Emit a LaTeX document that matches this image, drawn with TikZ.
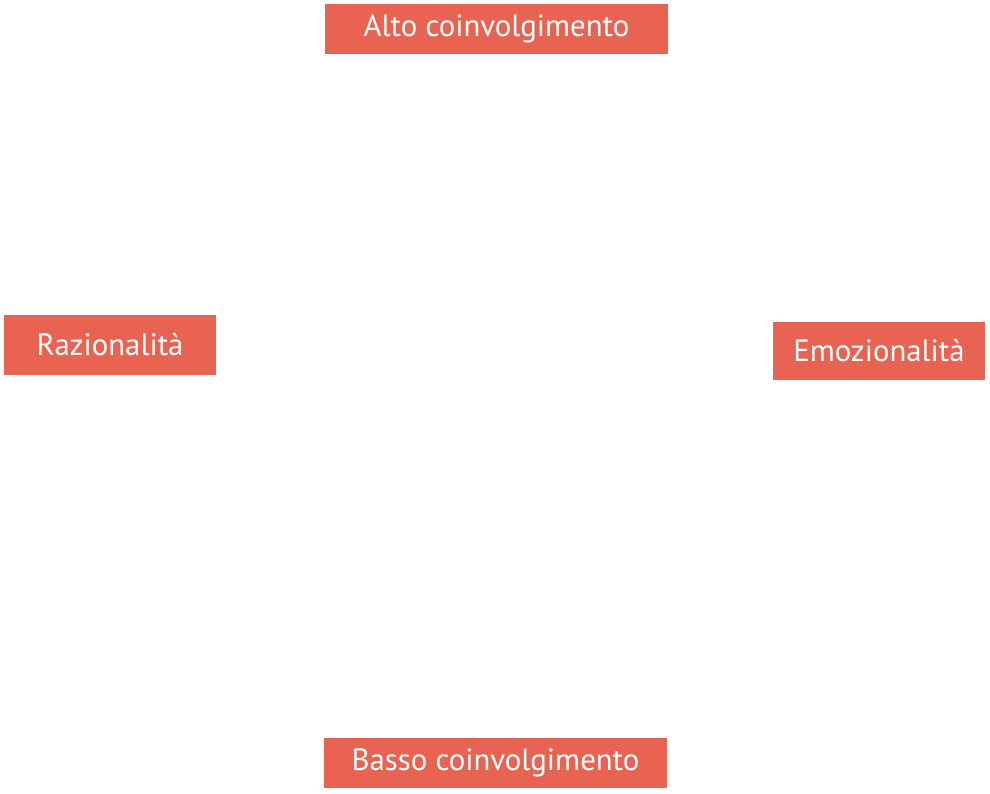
\documentclass[tikz,border=0pt]{standalone}
\usepackage{fontspec}
\setmainfont{PT Sans}
\definecolor{boxred}{HTML}{E96352}
\begin{document}
\begin{tikzpicture}[x=1pt,y=-1pt,
  lbl/.style={fill=boxred,text=white,inner sep=0pt,font=\fontsize{30.8}{33}\selectfont}]
\useasboundingbox (0,0) rectangle (990,793);
\node[lbl,minimum width=343pt,minimum height=50pt] (top) at (496.5,29) {Alto coinvolgimento};
\node[lbl,minimum width=212pt,minimum height=60pt] (left) at (110,345) {Razionalità};
\node[lbl,minimum width=212pt,minimum height=58pt] (right) at (879,351) {Emozionalità};
\node[lbl,minimum width=343pt,minimum height=50pt] (bottom) at (495.5,763) {Basso coinvolgimento};
\end{tikzpicture}
\end{document}
